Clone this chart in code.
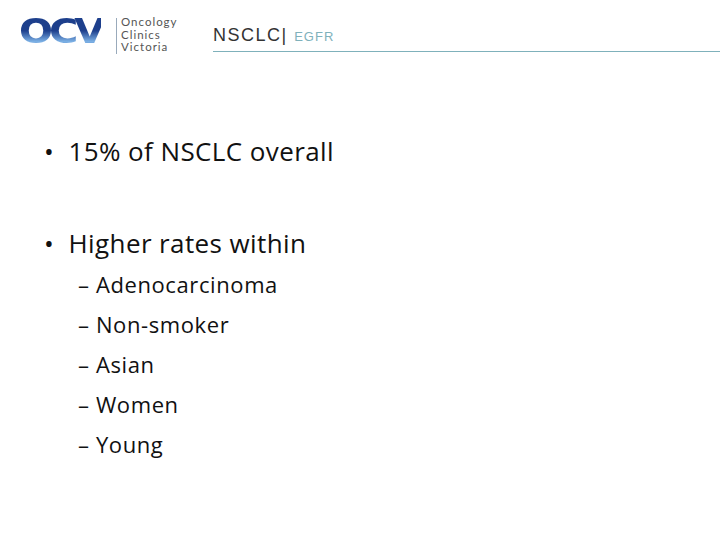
<!DOCTYPE html>
<html>
<head>
<meta charset="utf-8">
<script src="https://cdn.jsdelivr.net/npm/chart.js@4"></script>
<style>
  body { margin:0; width:720px; height:540px; background:#fff; position:relative; overflow:hidden; font-family:"Open Sans","Liberation Sans",sans-serif; }
  .abs { position:absolute; white-space:nowrap; }
  .logo { left:19px; top:12px; font-family:"DejaVu Sans",sans-serif; font-weight:bold; font-size:40px; letter-spacing:-4px; line-height:44px;
          background:linear-gradient(#1d3f8c 0%, #1d3f8c 50%, #7fb4e8 80%, #1d3f8c 100%); -webkit-background-clip:text; color:transparent; transform:scaleX(1.0) scaleY(0.85); transform-origin:left top; }
  .sep { left:116px; top:18px; width:1px; height:36px; background:#9ab; }
  .brand { left:121px; top:16px; font-size:11.5px; line-height:12.5px; color:#555; letter-spacing:1px; font-family:"Lato",sans-serif; }
  .title { left:213px; top:25px; font-size:18px; color:#333; letter-spacing:1.5px; font-family:"Liberation Sans",sans-serif; }
  .title span { font-size:13px; color:#7fb1bb; letter-spacing:1px; }
  .rule { left:213px; top:51px; width:507px; height:1px; background:#7fb1bb; }
  .b { font-size:26px; color:#111; letter-spacing:0.4px; }
  .s { font-size:22px; color:#111; letter-spacing:0.6px; }
</style>
</head>
<body>
<div class="abs logo">OCV</div>
<div class="abs sep"></div>
<div class="abs brand">Oncology<br>Clinics<br>Victoria</div>
<div class="abs title">NSCLC| <span>EGFR</span></div>
<div class="abs rule"></div>
<div class="abs b" style="left:44px;top:133px">•&nbsp; 15% of NSCLC overall</div>
<div class="abs b" style="left:44px;top:225px">•&nbsp; Higher rates within</div>
<div id="subs"></div>
<script>
const subItems = ['Adenocarcinoma','Non-smoker','Asian','Women','Young'];
const wrap = document.getElementById('subs');
subItems.forEach((t, i) => {
  const d = document.createElement('div');
  d.className = 'abs s';
  d.style.left = '78px';
  d.style.top = (269 + i * 40) + 'px';
  d.innerHTML = '–&nbsp;' + t;
  wrap.appendChild(d);
});
</script>
</body>
</html>
